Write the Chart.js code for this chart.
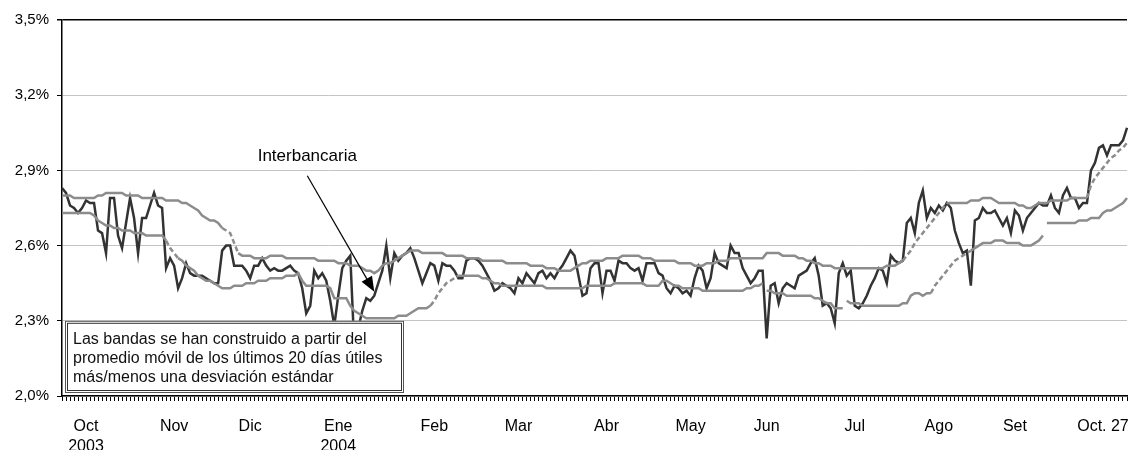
<!DOCTYPE html>
<html>
<head>
<meta charset="utf-8">
<script src="https://cdn.jsdelivr.net/npm/chart.js@4.4.1/dist/chart.umd.min.js"></script>
<style>
  html, body { margin: 0; padding: 0; background: #fff; }
  #wrap { width: 1128px; height: 450px; position: relative; }
</style>
</head>
<body>
<div id="wrap"><canvas id="chart-tasa"></canvas></div>
<script>
// tasa interbancaria diaria (%), oct 2003 - oct 27 2004
const rate = [
  2.83, 2.81, 2.76, 2.75, 2.73, 2.75, 2.78, 2.77, 2.77, 2.66,
  2.65, 2.57, 2.79, 2.79, 2.64, 2.59, 2.69, 2.79, 2.71, 2.57,
  2.71, 2.71, 2.76, 2.81, 2.76, 2.75, 2.51, 2.55, 2.52, 2.43,
  2.47, 2.53, 2.49, 2.48, 2.48, 2.48, 2.47, 2.46, 2.45, 2.45,
  2.58, 2.60, 2.60, 2.52, 2.52, 2.52, 2.50, 2.47, 2.52, 2.52,
  2.55, 2.52, 2.50, 2.51, 2.50, 2.50, 2.51, 2.52, 2.50, 2.49,
  2.43, 2.33, 2.36, 2.50, 2.47, 2.49, 2.46, 2.38, 2.28, 2.40,
  2.51, 2.54, 2.56, 2.20, 2.27, 2.34, 2.39, 2.38, 2.40, 2.45,
  2.50, 2.60, 2.47, 2.57, 2.54, 2.56, 2.57, 2.59, 2.55, 2.50,
  2.45, 2.49, 2.53, 2.52, 2.46, 2.53, 2.52, 2.52, 2.50, 2.47,
  2.47, 2.54, 2.55, 2.55, 2.54, 2.52, 2.49, 2.46, 2.42, 2.43,
  2.45, 2.44, 2.43, 2.41, 2.47, 2.45, 2.49, 2.47, 2.45, 2.49,
  2.50, 2.47, 2.49, 2.47, 2.50, 2.52, 2.55, 2.58, 2.56, 2.48,
  2.40, 2.41, 2.51, 2.53, 2.53, 2.41, 2.50, 2.50, 2.46, 2.54,
  2.53, 2.53, 2.51, 2.50, 2.51, 2.46, 2.53, 2.53, 2.53, 2.49,
  2.48, 2.43, 2.41, 2.44, 2.43, 2.41, 2.42, 2.40, 2.47, 2.52,
  2.50, 2.43, 2.47, 2.57, 2.53, 2.52, 2.51, 2.60, 2.57, 2.57,
  2.51, 2.48, 2.45, 2.47, 2.50, 2.50, 2.23, 2.44, 2.45, 2.37,
  2.43, 2.45, 2.44, 2.43, 2.48, 2.49, 2.50, 2.53, 2.55, 2.48,
  2.36, 2.37, 2.35, 2.29, 2.49, 2.53, 2.48, 2.50, 2.36, 2.35,
  2.37, 2.40, 2.44, 2.47, 2.51, 2.50, 2.45, 2.56, 2.54, 2.53,
  2.54, 2.69, 2.71, 2.65, 2.77, 2.82, 2.71, 2.75, 2.73, 2.76,
  2.74, 2.77, 2.75, 2.66, 2.61, 2.57, 2.58, 2.44, 2.70, 2.71,
  2.75, 2.73, 2.73, 2.74, 2.71, 2.68, 2.71, 2.65, 2.74, 2.72,
  2.66, 2.71, 2.73, 2.75, 2.77, 2.76, 2.76, 2.80, 2.75, 2.73,
  2.80, 2.83, 2.79, 2.79, 2.75, 2.77, 2.77, 2.90, 2.93, 2.99,
  3.00, 2.96, 3.00, 3.00, 3.00, 3.02, 3.07
];

// banda superior: promedio movil 20 dias + 1 desv. est.
const upperBand = [
  2.80, 2.80, 2.80, 2.79, 2.79, 2.79, 2.79, 2.79, 2.79, 2.80,
  2.80, 2.81, 2.81, 2.81, 2.81, 2.81, 2.80, 2.80, 2.80, 2.80,
  2.79, 2.79, 2.79, 2.79, 2.79, 2.79, 2.78, 2.78, 2.78, 2.78,
  2.77, 2.77, 2.76, 2.75, 2.74, 2.72, 2.71, 2.70, 2.70, 2.69,
  2.67, 2.66, 2.65, 2.61, 2.57, 2.56, 2.56, 2.56, 2.55, 2.55,
  2.55, 2.55, 2.56, 2.56, 2.56, 2.56, 2.55, 2.55, 2.55, 2.55,
  2.55, 2.55, 2.55, 2.55, 2.54, 2.54, 2.54, 2.54, 2.54, 2.53,
  2.53, 2.53, 2.52, 2.52, 2.52, 2.51, 2.50, 2.50, 2.49, 2.50,
  2.52, 2.53, 2.53, 2.54, 2.55, 2.56, 2.57, 2.58, 2.58, 2.58,
  2.57, 2.57, 2.57, 2.57, 2.57, 2.57, 2.56, 2.56, 2.56, 2.56,
  2.56, 2.55, 2.55, 2.55, 2.55, 2.54, 2.54, 2.54, 2.54, 2.54,
  2.54, 2.53, 2.53, 2.53, 2.53, 2.53, 2.53, 2.52, 2.52, 2.52,
  2.52, 2.51, 2.51, 2.51, 2.50, 2.50, 2.50, 2.50, 2.51, 2.52,
  2.53, 2.53, 2.54, 2.54, 2.54, 2.54, 2.55, 2.55, 2.55, 2.55,
  2.56, 2.56, 2.56, 2.56, 2.56, 2.55, 2.55, 2.55, 2.54, 2.54,
  2.54, 2.54, 2.54, 2.54, 2.53, 2.53, 2.53, 2.53, 2.52, 2.52,
  2.52, 2.53, 2.53, 2.53, 2.54, 2.54, 2.54, 2.55, 2.55, 2.55,
  2.55, 2.55, 2.55, 2.55, 2.55, 2.55, 2.57, 2.57, 2.57, 2.57,
  2.56, 2.56, 2.56, 2.56, 2.55, 2.55, 2.54, 2.54, 2.53, 2.53,
  2.52, 2.52, 2.52, 2.51, 2.51, 2.51, 2.51, 2.51, 2.51, 2.51,
  2.51, 2.51, 2.51, 2.51, 2.51, 2.51, 2.52, 2.52, 2.52, 2.53,
  2.54, 2.56, 2.58, 2.61, 2.63, 2.65, 2.67, 2.69, 2.71, 2.73,
  2.75, 2.77, 2.77, 2.77, 2.77, 2.77, 2.77, 2.78, 2.78, 2.78,
  2.79, 2.79, 2.79, 2.78, 2.77, 2.77, 2.77, 2.77, 2.77, 2.76,
  2.76, 2.75, 2.75, 2.76, 2.77, 2.77, 2.77, 2.78, 2.78, 2.78,
  2.78, 2.78, 2.79, 2.79, 2.79, 2.79, 2.79, 2.84, 2.87, 2.89,
  2.91, 2.93, 2.95, 2.96, 2.98, 2.99, 3.01
];

// banda inferior: promedio movil 20 dias - 1 desv. est.
const lowerBand = [
  2.73, 2.73, 2.73, 2.73, 2.73, 2.73, 2.73, 2.73, 2.72, 2.70,
  2.69, 2.68, 2.68, 2.67, 2.67, 2.66, 2.66, 2.66, 2.65, 2.65,
  2.65, 2.64, 2.64, 2.64, 2.64, 2.64, 2.62, 2.59, 2.57, 2.55,
  2.54, 2.52, 2.51, 2.50, 2.48, 2.47, 2.46, 2.46, 2.45, 2.44,
  2.43, 2.43, 2.43, 2.44, 2.44, 2.44, 2.45, 2.45, 2.45, 2.46,
  2.46, 2.46, 2.47, 2.47, 2.47, 2.47, 2.48, 2.48, 2.48, 2.49,
  2.46, 2.44, 2.44, 2.44, 2.44, 2.44, 2.44, 2.43, 2.39, 2.39,
  2.39, 2.39, 2.36, 2.34, 2.33, 2.32, 2.31, 2.31, 2.31, 2.31,
  2.31, 2.31, 2.31, 2.31, 2.32, 2.32, 2.32, 2.33, 2.34, 2.35,
  2.35, 2.35, 2.36, 2.38, 2.41, 2.43, 2.45, 2.46, 2.47, 2.48,
  2.48, 2.48, 2.48, 2.48, 2.48, 2.47, 2.47, 2.46, 2.45, 2.45,
  2.44, 2.44, 2.44, 2.44, 2.44, 2.44, 2.44, 2.44, 2.44, 2.44,
  2.44, 2.43, 2.43, 2.43, 2.43, 2.43, 2.43, 2.43, 2.43, 2.43,
  2.43, 2.44, 2.44, 2.44, 2.44, 2.44, 2.44, 2.44, 2.45, 2.45,
  2.45, 2.45, 2.45, 2.45, 2.45, 2.45, 2.44, 2.44, 2.44, 2.44,
  2.46, 2.46, 2.45, 2.44, 2.44, 2.43, 2.43, 2.43, 2.43, 2.43,
  2.42, 2.42, 2.42, 2.42, 2.42, 2.42, 2.42, 2.42, 2.42, 2.42,
  2.42, 2.43, 2.43, 2.44, 2.44, 2.45, 2.42, 2.42, 2.41, 2.41,
  2.41, 2.40, 2.40, 2.40, 2.40, 2.40, 2.40, 2.40, 2.39, 2.39,
  2.38, 2.37, 2.37, 2.35, 2.35, 2.35, 2.38, 2.37, 2.37, 2.37,
  2.36, 2.36, 2.36, 2.36, 2.36, 2.36, 2.36, 2.36, 2.36, 2.36,
  2.37, 2.37, 2.40, 2.41, 2.41, 2.40, 2.41, 2.41, 2.44, 2.46,
  2.48, 2.50, 2.52, 2.54, 2.55, 2.56, 2.57, 2.58, 2.59, 2.60,
  2.61, 2.61, 2.61, 2.62, 2.62, 2.62, 2.61, 2.61, 2.61, 2.61,
  2.60, 2.60, 2.60, 2.61, 2.62, 2.64, 2.69, 2.69, 2.69, 2.69,
  2.69, 2.69, 2.69, 2.69, 2.70, 2.70, 2.70, 2.71, 2.71, 2.71,
  2.73, 2.74, 2.74, 2.75, 2.76, 2.77, 2.79
];

// tramos punteados y cortes de las bandas (indice del dia)
const upperDashed = [[40, 44], [210, 221], [256, 266]];
const lowerDashed = [[26, 29], [92, 99], [217, 227]];
const lowerBreaks = [175, 195, 245];

// etiquetas de meses y el dia donde va cada una
const monthNames = [['Oct', '2003'], 'Nov', 'Dic', ['Ene', '2004'], 'Feb', 'Mar', 'Abr', 'May', 'Jun', 'Jul', 'Ago', 'Set', 'Oct. 27'];
const monthDays = [6, 28, 47, 69, 93, 114, 136, 157, 176, 198, 219, 238, 260];

const yTicks = [2.0, 2.3, 2.6, 2.9, 3.2, 3.5];

const noteLines = [
    'Las bandas se han construido a partir del',
    'promedio móvil de los últimos 20 días útiles',
    'más/menos una desviación estándar'
];
const arrowLabel = 'Interbancaria';
const arrowDay = 78;

const labels = rate.map(() => '');
monthDays.forEach((d, k) => { labels[d] = monthNames[k]; });

function inRanges(i, ranges) {
    return ranges.some(r => i >= r[0] && i < r[1]);
}

Chart.defaults.font.family = "'Liberation Sans', Arial, sans-serif";
Chart.defaults.color = '#000';

const notesPlugin = {
    id: 'notes',
    afterDatasetsDraw(chart) {
        const { ctx, chartArea, scales } = chart;
        const x = scales.x, y = scales.y;
        ctx.save();

        // flecha hacia la tasa interbancaria
        const tipX = x.getPixelForValue(arrowDay);
        const tipY = y.getPixelForValue(rate[arrowDay]) - 4;
        const startX = tipX - 67, startY = tipY - 116;
        const ang = Math.atan2(tipY - startY, tipX - startX);
        ctx.strokeStyle = '#000';
        ctx.fillStyle = '#000';
        ctx.lineWidth = 1.2;
        ctx.beginPath();
        ctx.moveTo(startX, startY);
        ctx.lineTo(tipX - 12 * Math.cos(ang), tipY - 12 * Math.sin(ang));
        ctx.stroke();
        ctx.beginPath();
        ctx.moveTo(tipX, tipY);
        ctx.lineTo(tipX - 15 * Math.cos(ang) + 6 * Math.sin(ang), tipY - 15 * Math.sin(ang) - 6 * Math.cos(ang));
        ctx.lineTo(tipX - 15 * Math.cos(ang) - 6 * Math.sin(ang), tipY - 15 * Math.sin(ang) + 6 * Math.cos(ang));
        ctx.closePath();
        ctx.fill();

        ctx.font = "17px 'Liberation Sans', Arial, sans-serif";
        ctx.textAlign = 'center';
        ctx.textBaseline = 'middle';
        ctx.fillText(arrowLabel, startX, startY - 19);

        // recuadro de nota, borde doble
        const bx = chartArea.left + 3;
        const by = y.getPixelForValue(2.3);
        const bw = 338;
        const bh = chartArea.bottom - 4 - by;
        ctx.fillStyle = '#fff';
        ctx.fillRect(bx, by, bw, bh);
        ctx.strokeStyle = '#555';
        ctx.lineWidth = 1;
        ctx.strokeRect(bx + 0.5, by + 0.5, bw, bh);
        ctx.strokeStyle = '#333';
        ctx.strokeRect(bx + 2.5, by + 2.5, bw - 4, bh - 4);

        ctx.fillStyle = '#111';
        ctx.font = "16px 'Liberation Sans', Arial, sans-serif";
        ctx.textAlign = 'left';
        noteLines.forEach((t, k) => {
            ctx.fillText(t, bx + 8, by + 19 + k * 19);
        });
        ctx.restore();
    }
};

const ctxTasa = document.getElementById('chart-tasa').getContext('2d');
new Chart(ctxTasa, {
    type: 'line',
    data: {
        labels: labels,
        datasets: [
            {
                label: 'Banda superior', data: upperBand, borderColor: '#8c8c8c', borderWidth: 2.5,
                pointRadius: 0, tension: 0,
                segment: { borderDash: c => inRanges(c.p0DataIndex, upperDashed) ? [5, 3] : undefined }
            },
            {
                label: 'Banda inferior', data: lowerBand, borderColor: '#8c8c8c', borderWidth: 2.5,
                pointRadius: 0, tension: 0,
                segment: {
                    borderDash: c => inRanges(c.p0DataIndex, lowerDashed) ? [5, 3] : undefined,
                    borderColor: c => lowerBreaks.includes(c.p0DataIndex) ? 'rgba(0,0,0,0)' : undefined
                }
            },
            {
                label: 'Interbancaria', data: rate, borderColor: '#333', borderWidth: 2.5,
                pointRadius: 0, tension: 0
            }
        ]
    },
    options: {
        responsive: true,
        maintainAspectRatio: false,
        animation: false,
        layout: { padding: { top: 20, right: 1, left: 0, bottom: 0 } },
        plugins: { legend: { display: false }, tooltip: { enabled: false } },
        scales: {
            x: {
                type: 'category',
                offset: false,
                afterFit: s => { s.height = 54; s.paddingLeft = 0; s.paddingRight = 0; },
                grid: { drawOnChartArea: false, drawTicks: true, tickLength: 5, color: '#000' },
                border: { display: true, color: '#000', width: 1.5 },
                ticks: { autoSkip: false, maxRotation: 0, minRotation: 0, padding: 16,
                    font: { size: 16, lineHeight: 1.25 } }
            },
            y: {
                min: 2.0, max: 3.5,
                afterFit: s => { s.width = 62; },
                afterBuildTicks: s => { s.ticks = yTicks.map(v => ({ value: v })); },
                grid: {
                    color: c => (c.tick && Math.abs(c.tick.value - 3.5) < 1e-6) ? '#000' : '#c4c4c4',
                    lineWidth: c => (c.tick && Math.abs(c.tick.value - 3.5) < 1e-6) ? 1.5 : 1,
                    tickColor: '#000', tickLength: 5
                },
                border: { display: true, color: '#000', width: 1.5 },
                ticks: { padding: 8, font: { size: 15 },
                    callback: v => v.toFixed(1).replace('.', ',') + '%' }
            }
        }
    },
    plugins: [notesPlugin]
});
</script>
</body>
</html>
